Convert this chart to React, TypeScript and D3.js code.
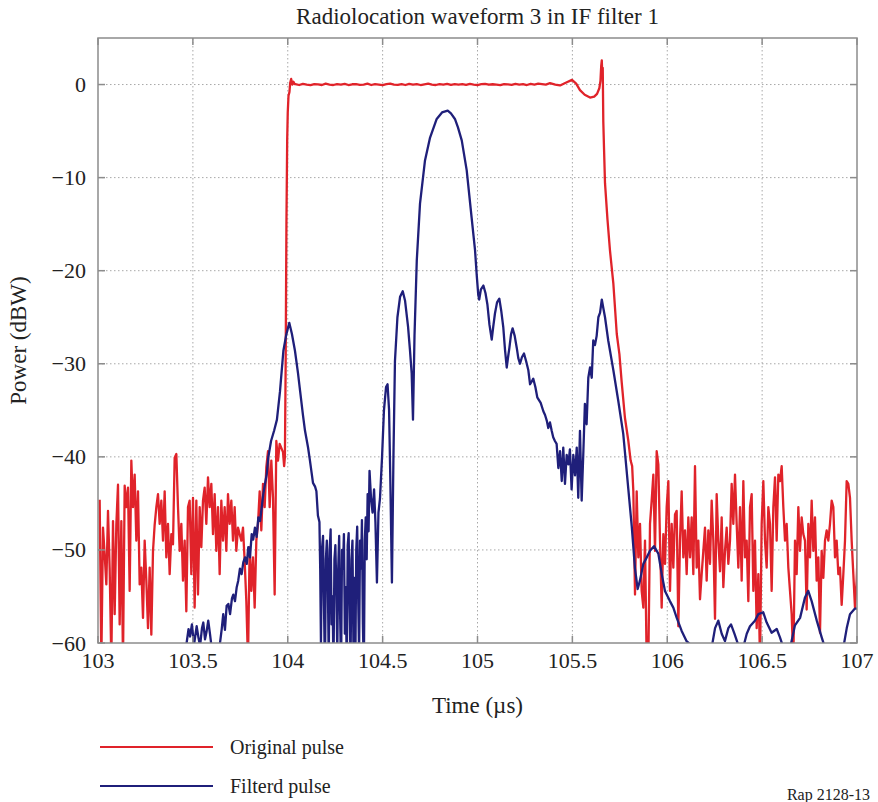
import React from 'react';
import * as d3 from 'd3';

const TITLE = 'Radiolocation waveform 3 in IF filter 1';
const X_LABEL = 'Time (\u00b5s)';
const Y_LABEL = 'Power (dBW)';
const LEGEND = ['Original pulse', 'Filterd pulse'];
const NOTE = 'Rap 2128-13';

const X_TICKS = [103, 103.5, 104, 104.5, 105, 105.5, 106, 106.5, 107];
const Y_TICKS = [0, -10, -20, -30, -40, -50, -60];
const X_DOMAIN = [103, 107];
const Y_DOMAIN = [-60, 5];

// Original pulse (red)
const NOISE_STEP = 0.008783;
const RED_LEFT_START = 103.0088;
const RED_LEFT_NOISE = [
  -44.6, -62, -47.6, -50.5, -53.7, -45.8, -52, -62, -46.9, -56.9,
  -47.3, -43.0, -58.0, -46.9, -62, -43.1, -45.4, -43.3, -54.4, -40.4,
  -45.4, -41.9, -49.0, -43.7, -53.7, -51.9, -57.3, -49.0, -53.3, -58.4,
  -51.9, -59.1, -50.1, -47.3, -45.4, -44.0, -47.2, -44.7, -49.0, -43.7,
  -50.8, -47.2, -52.6, -48.3, -49.4, -40.1, -39.7, -45.4, -50.1, -47.2,
  -53.3, -49.0, -56.6, -45.4, -44.7, -52.6, -44.4, -56.2, -44.7,
  -54.8, -45.4, -49.7, -44.7, -43.3, -47.2, -42.2, -45.4, -42.9, -48.3,
  -44.0, -50.1, -45.4, -52.6, -44.7, -49.0, -45.4, -50.1, -44.0, -47.2,
  -44.7, -49.0, -45.4, -50.1, -47.6, -48.3, -49.0, -47.6, -51.2, -55.5,
  -62, -49.7, -54.4, -50.8, -56.2, -49.0, -47.2, -43.7, -47.9, -42.9,
  -45.4, -41.1, -39.4, -45.4, -40.4, -44.4, -54.8, -38.3, -40.4, -38.6,
];
const RED_RISE: [number, number][] = [
  [103.975, -39.5], [103.981, -41.0], [103.985, -40.0], [103.989, -30.0],
  [103.993, -15.0], [103.997, -6.0], [104.0, -3.0], [104.004, -1.2],
  [104.009, -0.8], [104.013, 0.2], [104.018, 0.6], [104.024, 0.0],
  [104.03, 0.3], [104.036, 0.05],
];
const RED_FLAT_START = 104.04;
const RED_FLAT_STEP = 0.02;
const RED_FLAT = [
  0.05, -0.05, 0.08, 0.0, -0.07, 0.05, 0.02, -0.05, 0.1, 0.0,
  -0.05, 0.05, 0.0, 0.08, -0.05, 0.03, 0.05, -0.03, 0.0, 0.1,
  -0.05, 0.05, 0.0, -0.07, 0.05, 0.1, 0.0, -0.03, 0.05, -0.05,
  0.08, 0.0, 0.05, -0.05, 0.03, 0.1, 0.0, -0.05, 0.05, 0.0,
  0.08, -0.03, 0.05, 0.0, 0.05, -0.04, 0.06, 0.0, -0.05, 0.04,
  0.08, -0.02, 0.03, 0.0, -0.06, 0.05, 0.02, -0.04, 0.07, 0.0,
  0.04, -0.05, 0.06, 0.0, 0.1, 0.05, 0.0,
];
const RED_FALL: [number, number][] = [
  [105.382, 0.15], [105.41, 0.0], [105.435, -0.1], [105.465, 0.2],
  [105.498, 0.5], [105.52, 0.1], [105.54, -0.6], [105.565, -1.1],
  [105.593, -1.4], [105.615, -1.3], [105.63, -1.0], [105.642, -0.4],
  [105.648, 0.4], [105.652, 2.0], [105.655, 2.6], [105.658, 0.8],
  [105.66, 1.8], [105.663, -4.0], [105.667, -7.0], [105.672, -10.6],
  [105.685, -14.5], [105.698, -17.8], [105.716, -21.4], [105.734, -26.8],
  [105.748, -29.0], [105.76, -32.0], [105.777, -35.8], [105.795, -38.3],
  [105.807, -40.4], [105.815, -41.0],
];
const RED_RIGHT_START = 105.8213;
const RED_RIGHT_NOISE = [
  -43.7, -54.8, -43.7, -50.8, -47.2, -54.4, -56.2, -49.0, -62, -62,
  -47.2, -44.7, -41.9, -50.1, -39.4, -40.8, -49.0, -56.2, -48.3, -51.5,
  -45.4, -42.6, -54.4, -47.2, -51.9, -46.2, -45.8, -58.2, -49.0, -43.7,
  -50.8, -47.9, -52.6, -46.5, -50.8, -46.5, -52.6, -41.0, -51.9, -49.0,
  -55.3, -52.6, -50.1, -47.6, -53.3, -47.9, -51.5, -44.7, -49.0, -57.4,
  -44.0, -49.0, -52.3, -46.5, -54.0, -50.1, -47.6, -51.5, -49.0, -42.9,
  -47.2, -41.9, -47.2, -51.9, -45.4, -53.3,
  -42.6, -50.8, -49.0, -55.5, -45.4, -44.0, -54.4, -49.0, -58.4, -52.6,
  -62, -47.2, -42.6, -49.0, -51.9, -45.4, -47.2, -54.4, -45.4, -42.2,
  -49.0, -41.9, -42.6, -41.0, -45.4, -49.0, -47.2, -51.9, -54.4, -56.9,
  -62, -49.0, -52.6, -45.4, -50.1, -46.5, -48.3, -49.0, -56.4, -47.2,
  -50.8, -44.7, -50.1, -46.5, -53.3, -50.8, -58.9, -50.1, -53.0, -49.0,
  -47.9, -49.0, -47.2, -44.7, -45.4, -50.8, -49.0, -52.6, -51.9, -55.9,
  -52.6, -49.0, -42.6, -42.9, -44.4, -49.0, -52.6, -56.2, -53.3, -48.3,
];

// Filtered pulse (blue)
const BLUE: [number, number][] = [
  [103.448, -63], [103.467, -60.0], [103.477, -58.5], [103.485, -59.3], [103.495, -58.0],
  [103.506, -60.2], [103.52, -58.2], [103.53, -59.5], [103.538, -60.3], [103.548, -58.4],
  [103.555, -57.8], [103.564, -59.6], [103.572, -58.8], [103.581, -57.6], [103.59, -59.0],
  [103.599, -60.5], [103.611, -63], [103.632, -63], [103.643, -60], [103.652, -58.5],
  [103.66, -56.9], [103.669, -58.6], [103.678, -56.0], [103.687, -55.8], [103.696, -56.9],
  [103.706, -55.2], [103.713, -54.8], [103.722, -55.5], [103.731, -54.0], [103.739, -53.3],
  [103.748, -52.0], [103.757, -52.6], [103.766, -51.3], [103.775, -50.8], [103.784, -51.5],
  [103.792, -49.7], [103.801, -50.8], [103.81, -48.3], [103.818, -48.9], [103.827, -47.6],
  [103.836, -48.6], [103.845, -46.5], [103.854, -46.9], [103.863, -45.4], [103.871, -44.0],
  [103.88, -42.9], [103.889, -41.9], [103.897, -40.1], [103.912, -38.3], [103.928, -37.2],
  [103.943, -36.0], [103.959, -33.0], [103.977, -28.6], [103.991, -27.0], [104.008, -25.6],
  [104.022, -26.8], [104.038, -28.6], [104.054, -31.0], [104.065, -32.9], [104.08, -35.5],
  [104.091, -37.2], [104.107, -39.0], [104.117, -40.4], [104.133, -42.8], [104.144, -43.2],
  [104.151, -43.7], [104.159, -46.3], [104.167, -47.0], [104.171, -52], [104.175, -60],
  [104.18, -50], [104.186, -48.5], [104.191, -56], [104.196, -63], [104.201, -51],
  [104.206, -49], [104.211, -53], [104.216, -62], [104.221, -50], [104.226, -47.8],
  [104.231, -58], [104.236, -55], [104.241, -63], [104.246, -51], [104.251, -49.5],
  [104.256, -54], [104.261, -61], [104.266, -52], [104.271, -48.5], [104.276, -57],
  [104.281, -63], [104.286, -50], [104.291, -52], [104.296, -48.3], [104.301, -59],
  [104.306, -54], [104.311, -63], [104.316, -49.5], [104.321, -48.2], [104.326, -56],
  [104.331, -62], [104.336, -51], [104.341, -49], [104.346, -60], [104.351, -53],
  [104.356, -63], [104.361, -50], [104.366, -47.5], [104.371, -55], [104.376, -61],
  [104.381, -49], [104.386, -52], [104.391, -46.8], [104.396, -58], [104.401, -63],
  [104.406, -49], [104.411, -46.5], [104.416, -51], [104.421, -44], [104.426, -48],
  [104.431, -41.5], [104.439, -44.5], [104.447, -46], [104.455, -43.5],
  [104.462, -47], [104.47, -53.5], [104.478, -46], [104.486, -44.5], [104.497, -40],
  [104.507, -35], [104.518, -32.5], [104.526, -32.2], [104.534, -35], [104.541, -43],
  [104.549, -53.5], [104.557, -40], [104.565, -29.7], [104.578, -25], [104.592, -22.8],
  [104.606, -22.2], [104.618, -23.2], [104.634, -26.0], [104.644, -28.5], [104.653, -31],
  [104.66, -36], [104.668, -27], [104.68, -18.9], [104.697, -12.8], [104.723, -8.2],
  [104.75, -5.7], [104.785, -3.7], [104.813, -3.0], [104.843, -2.8], [104.86, -3.1],
  [104.881, -3.7], [104.897, -4.6], [104.917, -6.0], [104.943, -9.2], [104.969, -14.3],
  [104.987, -17.8], [104.996, -20.5], [105.004, -22.6], [105.009, -23.1], [105.018, -22.0],
  [105.031, -21.6], [105.042, -22.4], [105.052, -23.6], [105.063, -25.8], [105.075, -27.4],
  [105.083, -26.0], [105.092, -24.6], [105.103, -23.4], [105.115, -23.0], [105.125, -24.3],
  [105.136, -26.1], [105.145, -28.5], [105.154, -30.4], [105.161, -29.3], [105.168, -28.3],
  [105.177, -26.8], [105.185, -26.2], [105.196, -27.0], [105.207, -28.3], [105.215, -29.4],
  [105.224, -30.0], [105.234, -29.3], [105.245, -28.9], [105.256, -29.7], [105.268, -30.7],
  [105.277, -32.2], [105.286, -31.9], [105.294, -31.6], [105.305, -32.5], [105.315, -33.6],
  [105.324, -33.9], [105.333, -34.2], [105.347, -35.1], [105.356, -35.5], [105.365, -36.1],
  [105.373, -36.9], [105.382, -36.3], [105.391, -37.2], [105.399, -37.9], [105.408, -38.3],
  [105.417, -38.6], [105.426, -41.2], [105.435, -39.4], [105.444, -42.6], [105.452, -39.0],
  [105.461, -42.9], [105.47, -39.8], [105.479, -40.8], [105.487, -39.2], [105.496, -43.5],
  [105.505, -39.8], [105.514, -42.0], [105.523, -39.0], [105.531, -44.4], [105.54, -37.2],
  [105.549, -44.7], [105.558, -39.4], [105.566, -34.3], [105.575, -36.5], [105.584, -31.5],
  [105.593, -30.4], [105.602, -31.5], [105.61, -27.5], [105.619, -28.0], [105.628, -27.0],
  [105.637, -25.0], [105.646, -24.5], [105.655, -23.1], [105.663, -24.0], [105.672, -25.0],
  [105.689, -27.5], [105.716, -30.7], [105.742, -34.0], [105.768, -37.5], [105.777, -39.5],
  [105.795, -43.5], [105.813, -47.5], [105.83, -52.0], [105.844, -54.2], [105.856, -53.3],
  [105.874, -51.5], [105.892, -50.8], [105.909, -50.1], [105.93, -49.6], [105.953, -50.4],
  [105.971, -52.6], [105.988, -54.4], [106.014, -55.5], [106.032, -56.2], [106.05, -57.3],
  [106.076, -58.7], [106.102, -59.8], [106.129, -60.3], [106.173, -63], [106.215, -63],
  [106.234, -60.5], [106.252, -58.4], [106.269, -57.6], [106.287, -59.0], [106.304, -59.8],
  [106.322, -58.4], [106.336, -58.0], [106.354, -59.0], [106.374, -60.2], [106.394, -61],
  [106.419, -59.0], [106.436, -58.2], [106.462, -57.6], [106.48, -56.9], [106.506, -56.7],
  [106.524, -57.8], [106.55, -58.9], [106.577, -58.5], [106.594, -59.4], [106.612, -60.5],
  [106.631, -61.5], [106.647, -60.6], [106.673, -58.1], [106.7, -57.3], [106.726, -55.1],
  [106.743, -54.4], [106.761, -55.5], [106.788, -57.6], [106.814, -59.4], [106.831, -60.5],
  [106.868, -62], [106.91, -61.5], [106.928, -60.5], [106.946, -58.4], [106.963, -56.9],
  [106.989, -56.3], [107.005, -56.3],
];

const RED_COLOR = '#e0232a';
const BLUE_COLOR = '#1f1f7a';
const FRAME = '#8c8c8c';
const GRID = '#a8a8a8';
const FONT = '"Liberation Serif", "Times New Roman", serif';

function buildRed(): [number, number][] {
  const pts: [number, number][] = [];
  RED_LEFT_NOISE.forEach((v, i) => pts.push([RED_LEFT_START + i * NOISE_STEP, v]));
  RED_RISE.forEach((p) => pts.push(p));
  RED_FLAT.forEach((v, i) => pts.push([RED_FLAT_START + i * RED_FLAT_STEP, v]));
  RED_FALL.forEach((p) => pts.push(p));
  RED_RIGHT_NOISE.forEach((v, i) => pts.push([RED_RIGHT_START + i * NOISE_STEP, v]));
  return pts;
}

export default function App() {
  const W = 878;
  const H = 802;
  const L = 98, R = 857, T = 38, B = 643;
  const x = d3.scaleLinear().domain(X_DOMAIN).range([L, R]);
  const y = d3.scaleLinear().domain(Y_DOMAIN).range([B, T]);
  const line = d3.line<[number, number]>().x((d) => x(d[0])).y((d) => y(d[1]));
  const red = buildRed();
  const tickLen = 7;
  const fmt = (v: number) => (v < 0 ? '\u2212' + Math.abs(v) : String(v));

  return (
    <svg width={W} height={H} style={{ position: 'absolute', left: 0, top: 0, background: '#fff' }} fontFamily={FONT}>
      <defs>
        <clipPath id="plot">
          <rect x={L} y={T} width={R - L} height={B - T} />
        </clipPath>
      </defs>
      <rect x={0} y={0} width={W} height={H} fill="#fff" />
      {X_TICKS.slice(1, -1).map((t) => (
        <line key={'gx' + t} x1={x(t)} x2={x(t)} y1={T} y2={B} stroke={GRID} strokeWidth={1} strokeDasharray="1.5,2.5" />
      ))}
      {Y_TICKS.filter((t) => t !== -60).map((t) => (
        <line key={'gy' + t} x1={L} x2={R} y1={y(t)} y2={y(t)} stroke={GRID} strokeWidth={1} strokeDasharray="1.5,2.5" />
      ))}
      <g clipPath="url(#plot)">
        <path d={line(red) || ''} fill="none" stroke={RED_COLOR} strokeWidth={2.3} strokeLinejoin="round" />
        <path d={line(BLUE) || ''} fill="none" stroke={BLUE_COLOR} strokeWidth={2.3} strokeLinejoin="round" />
      </g>
      <rect x={L} y={T} width={R - L} height={B - T} fill="none" stroke={FRAME} strokeWidth={1.5} />
      {X_TICKS.map((t) => (
        <g key={'tx' + t}>
          <line x1={x(t)} x2={x(t)} y1={B} y2={B - tickLen} stroke={FRAME} strokeWidth={1.5} />
          <line x1={x(t)} x2={x(t)} y1={T} y2={T + tickLen} stroke={FRAME} strokeWidth={1.5} />
          <text x={x(t)} y={B + 25} textAnchor="middle" fontSize={22} fill="#222">{t}</text>
        </g>
      ))}
      {Y_TICKS.map((t) => (
        <g key={'ty' + t}>
          <line x1={L} x2={L + tickLen} y1={y(t)} y2={y(t)} stroke={FRAME} strokeWidth={1.5} />
          <line x1={R} x2={R - tickLen} y1={y(t)} y2={y(t)} stroke={FRAME} strokeWidth={1.5} />
          <text x={86} y={y(t) + 7.5} textAnchor="end" fontSize={22} fill="#222">{fmt(t)}</text>
        </g>
      ))}
      <text x={(L + R) / 2} y={24} textAnchor="middle" fontSize={23} fill="#222">{TITLE}</text>
      <text x={(L + R) / 2} y={713} textAnchor="middle" fontSize={23} fill="#222">{X_LABEL}</text>
      <text transform={`translate(26, ${(T + B) / 2}) rotate(-90)`} textAnchor="middle" fontSize={23} fill="#222">{Y_LABEL}</text>
      <line x1={100} x2={213} y1={747} y2={747} stroke={RED_COLOR} strokeWidth={2} />
      <text x={230} y={754} fontSize={20} fill="#222">{LEGEND[0]}</text>
      <line x1={100} x2={213} y1={786} y2={786} stroke={BLUE_COLOR} strokeWidth={2} />
      <text x={230} y={793} fontSize={20} fill="#222">{LEGEND[1]}</text>
      <text x={870} y={800} textAnchor="end" fontSize={16} fill="#222">{NOTE}</text>
    </svg>
  );
}
